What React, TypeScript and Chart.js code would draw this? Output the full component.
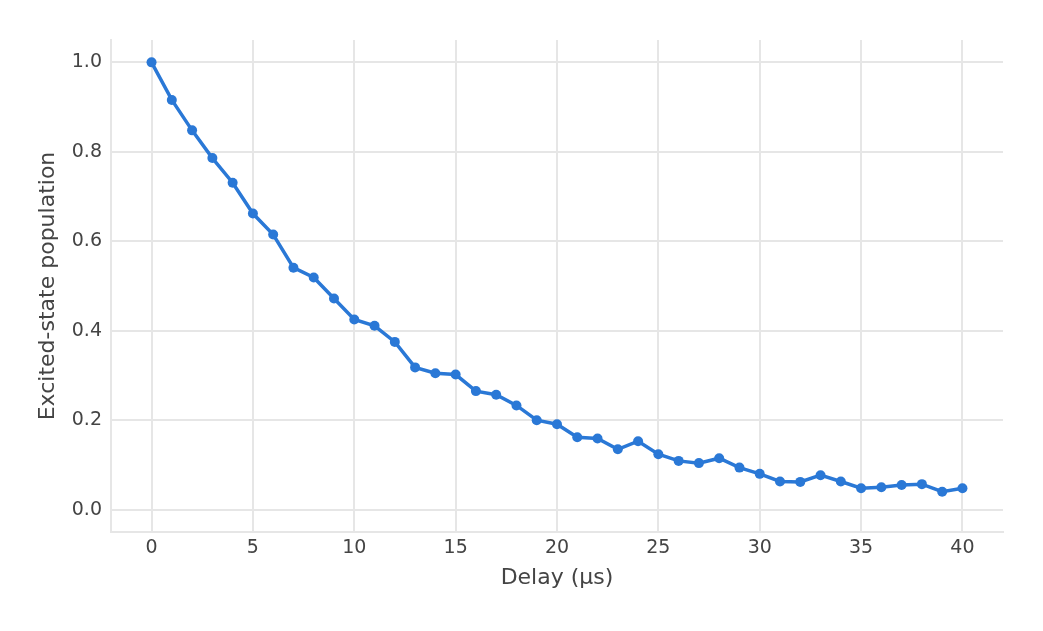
import React, { useEffect, useRef } from "react";
import { Chart, registerables, ChartConfiguration } from "chart.js";

Chart.register(...registerables);

const delays = [
  0, 1, 2, 3, 4, 5, 6, 7, 8, 9, 10, 11, 12, 13, 14, 15, 16, 17, 18, 19, 20,
  21, 22, 23, 24, 25, 26, 27, 28, 29, 30, 31, 32, 33, 34, 35, 36, 37, 38, 39, 40,
];

const population = [
  1.0, 0.916, 0.848, 0.786, 0.731, 0.662, 0.615, 0.541, 0.519, 0.472, 0.425,
  0.411, 0.375, 0.318, 0.305, 0.302, 0.265, 0.257, 0.233, 0.2, 0.191,
  0.162, 0.159, 0.135, 0.153, 0.124, 0.109, 0.104, 0.115, 0.094, 0.08,
  0.063, 0.062, 0.077, 0.063, 0.048, 0.05, 0.055, 0.057, 0.04, 0.048,
];

const xTitle = "Delay (μs)";
const yTitle = "Excited-state population";

const FONT = "'DejaVu Sans', sans-serif";
const TEXT = "#444444";
const GRID = "#e6e6e6";
const LINE = "#2a78d6";

const App: React.FC = () => {
  const chartRef = useRef<HTMLCanvasElement>(null);
  const chartInstance = useRef<Chart | null>(null);

  useEffect(() => {
    if (!chartRef.current) return;
    if (chartInstance.current) chartInstance.current.destroy();

    const ctx = chartRef.current.getContext("2d");
    if (!ctx) return;

    const config: ChartConfiguration = {
      type: "line",
      data: {
        datasets: [
          {
            label: yTitle,
            data: delays.map((d, i) => ({ x: d, y: population[i] })),
            borderColor: LINE,
            backgroundColor: LINE,
            borderWidth: 3.5,
            pointRadius: 5,
            pointBorderWidth: 0,
            pointBackgroundColor: LINE,
            tension: 0,
          },
        ],
      },
      options: {
        responsive: true,
        maintainAspectRatio: false,
        animation: false,
        layout: { padding: { top: 40, right: 40, left: 0, bottom: 0 } },
        plugins: {
          legend: { display: false },
          tooltip: { enabled: false },
        },
        scales: {
          x: {
            type: "linear",
            min: -2,
            max: 42,
            afterFit: (scale: any) => {
              scale.height = 99;
            },
            ticks: {
              stepSize: 5,
              includeBounds: false,
              padding: 5,
              color: TEXT,
              font: { family: FONT, size: 19 },
            },
            grid: { color: GRID, lineWidth: 2, drawTicks: false },
            border: { display: true, color: GRID, width: 2 },
            title: {
              display: true,
              text: xTitle,
              color: TEXT,
              font: { family: FONT, size: 22 },
              padding: { top: 0, bottom: 40 },
            },
          },
          y: {
            type: "linear",
            min: -0.05,
            max: 1.05,
            afterFit: (scale: any) => {
              scale.width = 111;
            },
            ticks: {
              stepSize: 0.2,
              includeBounds: false,
              padding: 9,
              color: TEXT,
              font: { family: FONT, size: 19 },
              callback: (v: any) => Number(v).toFixed(1),
            },
            grid: { color: GRID, lineWidth: 2, drawTicks: false },
            border: { display: true, color: GRID, width: 2 },
            title: {
              display: true,
              text: yTitle,
              color: TEXT,
              font: { family: FONT, size: 22 },
              padding: { top: 35, bottom: 0 },
            },
          },
        },
      },
    };

    chartInstance.current = new Chart(ctx, config);

    return () => {
      if (chartInstance.current) {
        chartInstance.current.destroy();
        chartInstance.current = null;
      }
    };
  }, []);

  return (
    <div
      style={{
        position: "absolute",
        left: 0,
        top: 0,
        width: 1043,
        height: 631,
        background: "#ffffff",
      }}
    >
      <canvas ref={chartRef} />
    </div>
  );
};

export default App;
